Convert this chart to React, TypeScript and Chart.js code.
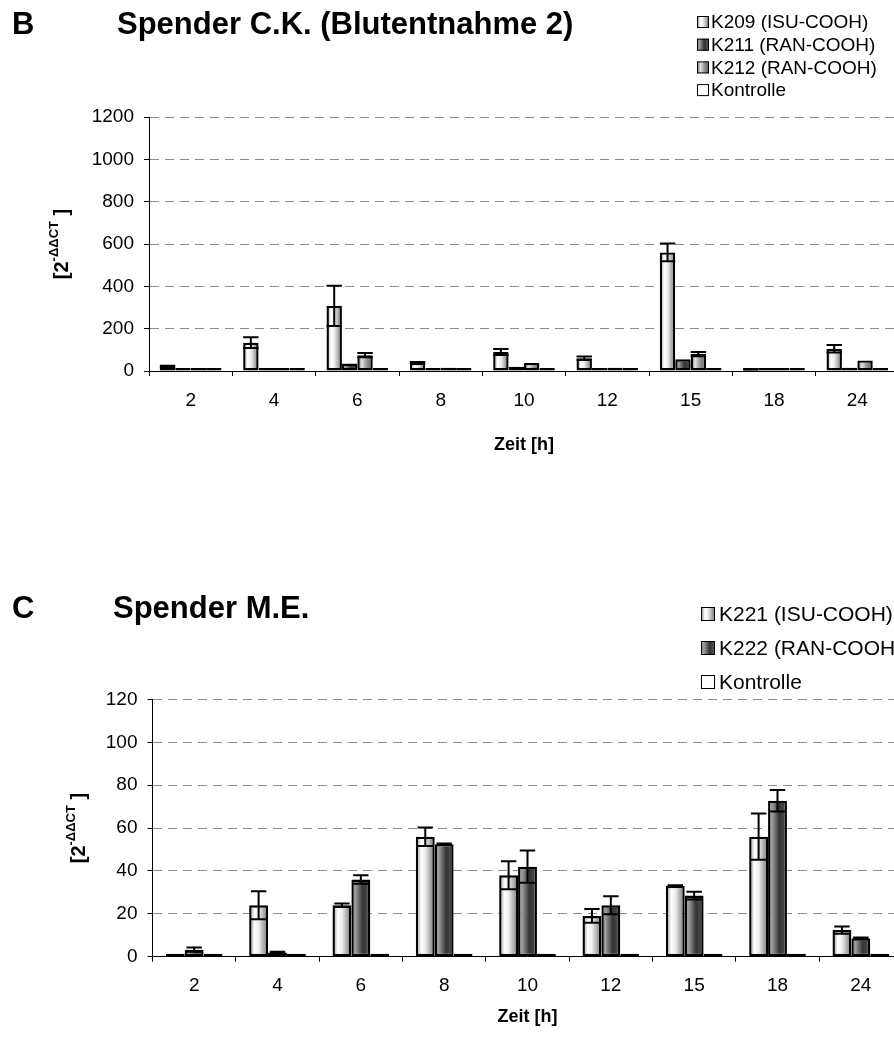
import React, { useEffect, useRef } from "react";
import { Chart, registerables } from "chart.js";

Chart.register(...registerables);

const FONT = "'Liberation Sans', Arial, Helvetica, sans-serif";
const CANVAS_W = 910;

// ---------- Panel B data ----------
const categoriesB = ["2", "4", "6", "8", "10", "12", "15", "18", "24"];
const k209 = [20, 134, 308, 38, 90, 60, 560, 8, 105];
const k209Err = [5, 25, 95, 4, 14, 8, 42, 1, 18];
const k211 = [8, 2, 35, 8, 20, 12, 55, 6, 15];
const k211Err = [0, 0, 0, 0, 0, 0, 0, 0, 0];
const k212 = [8, 5, 75, 15, 38, 15, 80, 2, 50];
const k212Err = [0, 0, 10, 0, 0, 0, 10, 0, 0];
const kontrolleB = [1, 1, 1, 1, 1, 1, 1, 1, 1];
const yTicksB = { min: 0, max: 1200, step: 200 };

// ---------- Panel C data ----------
const categoriesC = ["2", "4", "6", "8", "10", "12", "15", "18", "24"];
const k221 = [1, 24, 24, 56, 38, 19, 33, 56, 12.4];
const k221Err = [0, 6.5, 0.8, 4.3, 6.5, 3.2, 0.3, 10.8, 1.7];
const k222 = [3.3, 2, 36, 52.5, 42, 24, 28.5, 72.8, 8.6];
const k222Err = [1, 0.3, 2, 0.3, 7.5, 4.2, 1.8, 5, 0.3];
const kontrolleC = [1, 1, 1, 1, 1, 1, 1, 1, 1];
const yTicksC = { min: 0, max: 120, step: 20 };

const SHADES: Record<string, [number, string][]> = {
  light: [[0, "#848484"], [0.28, "#ffffff"], [0.5, "#eeeeee"], [0.8, "#a4a4a4"], [1, "#6e6e6e"]],
  dark: [[0, "#888888"], [0.22, "#9c9c9c"], [0.6, "#333333"], [0.85, "#474747"], [1, "#666666"]],
  medium: [[0, "#686868"], [0.3, "#e2e2e2"], [0.6, "#989898"], [1, "#585858"]],
  white: [[0, "#ffffff"], [1, "#ffffff"]],
};

function makeGradient(ctx: CanvasRenderingContext2D, x0: number, x1: number, shade: string) {
  const g = ctx.createLinearGradient(x0, 0, x1, 0);
  (SHADES[shade] || SHADES.white).forEach(([o, c]) => g.addColorStop(o, c));
  return g;
}

const shadePlugin = {
  id: "shade",
  beforeDatasetsDraw(chart: any) {
    const ctx = chart.ctx;
    chart.data.datasets.forEach((ds: any, i: number) => {
      const meta = chart.getDatasetMeta(i);
      if (!ds.shade || meta.hidden) return;
      meta.data.forEach((el: any) => {
        const { x, width } = el.getProps(["x", "width"], true);
        const g = makeGradient(ctx, x - width / 2, x + width / 2, ds.shade);
        el.options = Object.assign({}, el.options, { backgroundColor: g });
      });
    });
  },
};

const errorPlugin = {
  id: "errbars",
  afterDatasetsDraw(chart: any) {
    const ctx = chart.ctx;
    const ys = chart.scales.y;
    chart.data.datasets.forEach((ds: any, i: number) => {
      if (!ds.errors) return;
      const meta = chart.getDatasetMeta(i);
      meta.data.forEach((el: any, j: number) => {
        const e = ds.errors[j];
        if (!e) return;
        const v = ds.data[j];
        const yt = ys.getPixelForValue(v + e);
        const yb = ys.getPixelForValue(Math.max(0, v - e));
        const cap = 7.7;
        ctx.save();
        ctx.strokeStyle = "#000";
        ctx.lineWidth = 2;
        ctx.beginPath();
        ctx.moveTo(el.x, yt);
        ctx.lineTo(el.x, yb);
        ctx.moveTo(el.x - cap, yt);
        ctx.lineTo(el.x + cap, yt);
        ctx.moveTo(el.x - cap, yb);
        ctx.lineTo(el.x + cap, yb);
        ctx.stroke();
        ctx.restore();
      });
    });
  },
};

const decoPlugin = {
  id: "deco",
  afterDraw(chart: any, _args: any, opts: any) {
    const ctx: CanvasRenderingContext2D = chart.ctx;
    ctx.save();
    ctx.fillStyle = "#000";
    ctx.textAlign = "left";
    ctx.textBaseline = "alphabetic";
    // panel letter + title
    ctx.font = `bold ${opts.titleSize}px ${FONT}`;
    ctx.fillText(opts.letter, opts.letterX, opts.titleY);
    ctx.fillText(opts.title, opts.titleX, opts.titleY);
    // legend
    ctx.font = `${opts.legendSize}px ${FONT}`;
    ctx.textBaseline = "middle";
    chart.data.datasets.forEach((ds: any, i: number) => {
      const cy = opts.legendY + i * opts.legendDy;
      const b = opts.legendBox;
      const bx = opts.legendX;
      const by = cy - b / 2;
      ctx.fillStyle = makeGradient(ctx, bx, bx + b, ds.shade);
      ctx.fillRect(bx, by, b, b);
      ctx.strokeStyle = "#000";
      ctx.lineWidth = 1;
      ctx.strokeRect(bx + 0.5, by + 0.5, b - 1, b - 1);
      ctx.fillStyle = "#000";
      ctx.fillText(ds.label, bx + b + opts.legendGap, cy + 1);
    });
    // y-axis label [2^-ΔΔCT]
    const area = chart.chartArea;
    const cy = (area.top + area.bottom) / 2;
    ctx.translate(opts.yLabelX, cy);
    ctx.rotate(-Math.PI / 2);
    ctx.textBaseline = "alphabetic";
    const mainFont = `bold 20px ${FONT}`;
    const supFont = `bold 13px ${FONT}`;
    ctx.font = mainFont;
    const w1 = ctx.measureText("[2").width;
    const w3 = ctx.measureText(" ]").width;
    ctx.font = supFont;
    const w2 = ctx.measureText("-ΔΔCT").width;
    let x = -(w1 + w2 + w3) / 2;
    ctx.font = mainFont;
    ctx.fillText("[2", x, 7);
    x += w1;
    ctx.font = supFont;
    ctx.fillText("-ΔΔCT", x, -3);
    x += w2;
    ctx.font = mainFont;
    ctx.fillText(" ]", x, 7);
    ctx.restore();
  },
};

function barDataset(label: string, data: number[], errors: number[] | null, shade: string) {
  return {
    label,
    data,
    errors,
    shade,
    backgroundColor: "#ffffff",
    borderColor: "#000000",
    borderWidth: 2.4,
    borderSkipped: false,
    minBarLength: 3,
  };
}

function makeConfig(p: any) {
  const H = p.height;
  return {
    type: "bar",
    data: { labels: p.labels, datasets: p.datasets },
    options: {
      animation: false,
      responsive: false,
      devicePixelRatio: 1,
      layout: { padding: { top: p.area.top, left: 0, right: CANVAS_W - p.area.right, bottom: 0 } },
      datasets: { bar: { categoryPercentage: p.catPct, barPercentage: 1 } },
      plugins: {
        legend: { display: false },
        tooltip: { enabled: false },
        deco: p.deco,
      },
      scales: {
        x: {
          offset: true,
          grid: { drawOnChartArea: false, offset: true, tickLength: 5, color: "#000", tickColor: "#000" },
          border: { color: "#000", width: 1 },
          ticks: { font: { family: FONT, size: 19 }, color: "#000", padding: 13, maxRotation: 0 },
          title: {
            display: true,
            text: "Zeit [h]",
            font: { family: FONT, size: 18, weight: "bold" },
            color: "#000",
            padding: { top: 0, bottom: p.xTitlePad },
          },
          afterFit: (s: any) => {
            s.height = H - p.area.bottom;
          },
        },
        y: {
          min: p.yTicks.min,
          max: p.yTicks.max,
          ticks: {
            stepSize: p.yTicks.step,
            font: { family: FONT, size: 19 },
            color: "#000",
            padding: 10,
            callback: (v: any) => String(v),
          },
          grid: {
            color: (c: any) => (c.tick && c.tick.value === 0 ? "rgba(0,0,0,0)" : "#8a8a8a"),
            tickColor: "#000",
            tickLength: 5,
            tickBorderDash: [],
            lineWidth: 1,
          },
          border: { color: "#000", width: 1, dash: [9, 6] },
          afterFit: (s: any) => {
            s.width = p.area.left;
          },
        },
      },
    },
    plugins: [shadePlugin, errorPlugin, decoPlugin],
  };
}

function Panel({ cfg, top, height }: { cfg: () => any; top: number; height: number }) {
  const ref = useRef<HTMLCanvasElement>(null);
  useEffect(() => {
    const chart = new Chart(ref.current as HTMLCanvasElement, cfg());
    return () => chart.destroy();
  }, []);
  return (
    <canvas
      ref={ref}
      width={CANVAS_W}
      height={height}
      style={{ position: "absolute", left: 0, top, width: CANVAS_W, height, display: "block" }}
    />
  );
}

const TOP_H = 480;
const BOT_TOP = 520;
const BOT_H = 518;

const cfgB = () =>
  makeConfig({
    height: TOP_H,
    labels: categoriesB,
    datasets: [
      barDataset("K209 (ISU-COOH)", k209, k209Err, "light"),
      barDataset("K211 (RAN-COOH)", k211, k211Err, "dark"),
      barDataset("K212 (RAN-COOH)", k212, k212Err, "medium"),
      barDataset("Kontrolle", kontrolleB, null, "white"),
    ],
    yTicks: yTicksB,
    area: { top: 117, bottom: 371, left: 149, right: 899 },
    catPct: 0.74,
    xTitlePad: 24,
    deco: {
      letter: "B",
      letterX: 12,
      title: "Spender C.K. (Blutentnahme 2)",
      titleX: 117,
      titleY: 34,
      titleSize: 31,
      legendX: 697,
      legendY: 22,
      legendDy: 22.7,
      legendBox: 12,
      legendGap: 2,
      legendSize: 19,
      yLabelX: 61,
    },
  });

const cfgC = () =>
  makeConfig({
    height: BOT_H,
    labels: categoriesC,
    datasets: [
      barDataset("K221 (ISU-COOH)", k221, k221Err, "light"),
      barDataset("K222 (RAN-COOH)", k222, k222Err, "dark"),
      barDataset("Kontrolle", kontrolleC, null, "white"),
    ],
    yTicks: yTicksC,
    area: { top: 179.5, bottom: 436.7, left: 152.5, right: 902.5 },
    catPct: 0.68,
    xTitlePad: 10,
    deco: {
      letter: "C",
      letterX: 12,
      title: "Spender M.E.",
      titleX: 113,
      titleY: 98,
      titleSize: 31,
      legendX: 701,
      legendY: 94,
      legendDy: 34,
      legendBox: 14,
      legendGap: 4,
      legendSize: 21,
      yLabelX: 78,
    },
  });

export default function App() {
  return (
    <div
      style={{
        position: "absolute",
        left: 0,
        top: 0,
        width: 894,
        height: 1038,
        overflow: "hidden",
        background: "#fff",
      }}
    >
      <Panel cfg={cfgB} top={0} height={TOP_H} />
      <Panel cfg={cfgC} top={BOT_TOP} height={BOT_H} />
    </div>
  );
}
